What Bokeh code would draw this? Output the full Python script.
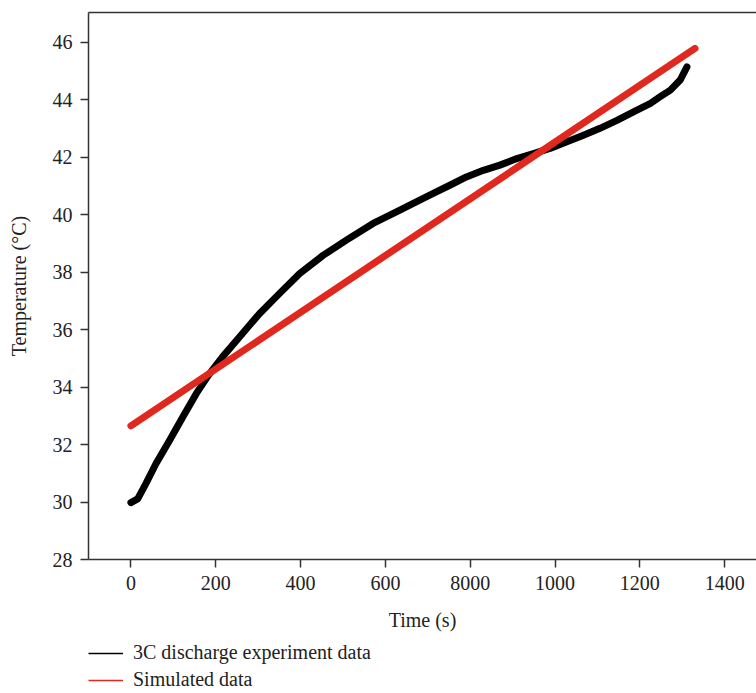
from bokeh.plotting import figure
from bokeh.layouts import column
from bokeh.models import Range1d, LinearAxis, FixedTicker, Legend, LegendItem
from bokeh.embed import file_html
from bokeh.resources import INLINE

exp_time = [0, 16, 35, 59, 91, 122, 154, 185, 216, 256, 303, 350, 398, 453,
            508, 571, 626, 681, 720, 752, 791, 831, 870, 910, 949, 988, 1028,
            1067, 1106, 1146, 1185, 1225, 1248, 1272, 1295, 1311]
exp_temp = [29.98, 30.11, 30.63, 31.33, 32.14, 32.95, 33.77, 34.46, 35.05,
            35.74, 36.55, 37.25, 37.95, 38.58, 39.11, 39.69, 40.09, 40.50,
            40.79, 41.02, 41.31, 41.54, 41.72, 41.95, 42.12, 42.30, 42.53,
            42.76, 43.00, 43.28, 43.57, 43.87, 44.10, 44.33, 44.68, 45.14]

# Simulated data
sim_time = [0, 1330]
sim_temp = [32.65, 45.78]

x_ticks = [0, 200, 400, 600, 800, 1000, 1200, 1400]
x_tick_labels = ["0", "200", "400", "600", "8000", "1000", "1200", "1400"]
y_ticks = [28, 30, 32, 34, 36, 38, 40, 42, 44, 46]
legend_labels = ["3C discharge experiment data", "Simulated data"]

FONT = "Liberation Serif"
FS = "20px"
AX = "#333333"
TXT = "#222222"
RED = "#e0281e"

p = figure(width=756, height=636, output_backend="svg", toolbar_location=None,
           x_range=Range1d(-100, 1475), y_range=Range1d(28, 47.03),
           min_border_left=88, min_border_right=0, min_border_top=12,
           min_border_bottom=77)
p.outline_line_color = None
p.grid.visible = False

p.line(exp_time, exp_temp, line_color="black", line_width=7,
       line_cap="round", line_join="round")
p.line(sim_time, sim_temp, line_color=RED, line_width=7,
       line_cap="round", line_join="round")

for ax in (p.xaxis[0], p.yaxis[0]):
    ax.axis_line_color = AX
    ax.axis_line_width = 1.5
    ax.major_tick_line_color = AX
    ax.major_tick_line_width = 1.5
    ax.major_tick_out = 8
    ax.major_tick_in = 0
    ax.minor_tick_line_color = None
    ax.major_label_text_font = FONT
    ax.major_label_text_font_size = FS
    ax.major_label_text_color = TXT
    ax.major_label_standoff = 8
    ax.axis_label_text_font = FONT
    ax.axis_label_text_font_size = FS
    ax.axis_label_text_font_style = "normal"
    ax.axis_label_text_color = TXT

p.xaxis.ticker = FixedTicker(ticks=x_ticks)
p.xaxis.major_label_overrides = {t: l for t, l in zip(x_ticks, x_tick_labels)}
p.xaxis.axis_label = "Time (s)"
p.xaxis.axis_label_standoff = 16

p.yaxis.ticker = FixedTicker(ticks=y_ticks)
p.yaxis.axis_label = "Temperature (°C)"
p.yaxis.axis_label_standoff = 20

top = LinearAxis(ticker=FixedTicker(ticks=[]), axis_line_color=AX,
                 axis_line_width=1.5, major_tick_line_color=None,
                 minor_tick_line_color=None, major_label_standoff=0,
                 major_label_text_font_size="0px")
p.add_layout(top, "above")

# legend figure below the chart
lf = figure(width=756, height=57, output_backend="svg", toolbar_location=None,
            x_range=Range1d(0, 1), y_range=Range1d(0, 1),
            min_border_left=0, min_border_right=0, min_border_top=0,
            min_border_bottom=0)
lf.axis.visible = False
lf.grid.visible = False
lf.outline_line_color = None
r1 = lf.line([-5, -4], [-5, -4], line_color="black", line_width=1.5)
r2 = lf.line([-5, -4], [-5, -4], line_color=RED, line_width=1.5)

legend = Legend(items=[
    LegendItem(label=legend_labels[0], renderers=[r1]),
    LegendItem(label=legend_labels[1], renderers=[r2]),
], location=(0, 2), orientation="vertical")
legend.border_line_color = None
legend.background_fill_alpha = 0
legend.label_text_font = FONT
legend.label_text_font_size = FS
legend.label_text_color = TXT
legend.glyph_width = 35
legend.glyph_height = 20
legend.label_height = 20
legend.label_standoff = 10
legend.spacing = 4
legend.padding = 1
legend.margin = 0
lf.add_layout(legend, "center")

open("out.html", "w").write(file_html(column(p, lf, spacing=0), INLINE))
